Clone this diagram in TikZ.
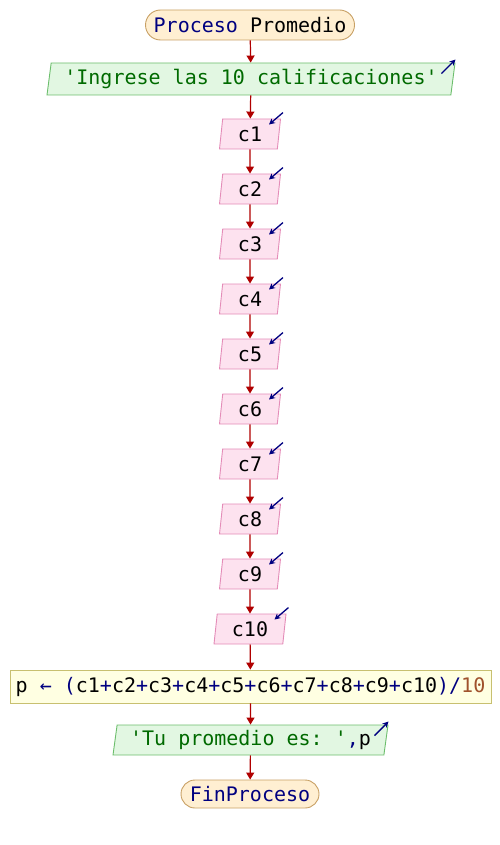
\documentclass[tikz,border=0pt]{standalone}
\usepackage{fontspec}
\setmonofont{DejaVu Sans Mono}
\usetikzlibrary{shapes.geometric,shapes.misc,arrows.meta}
\definecolor{kw}{HTML}{000080}
\definecolor{strc}{HTML}{006A00}
\definecolor{numc}{HTML}{A0522D}
\definecolor{arr}{HTML}{B00000}
\definecolor{termfill}{HTML}{FFEFD2}
\definecolor{termdraw}{HTML}{C8A064}
\definecolor{outfill}{HTML}{E2F7E2}
\definecolor{outdraw}{HTML}{6CBE6C}
\definecolor{infill}{HTML}{FDE2EF}
\definecolor{indraw}{HTML}{E48CB8}
\definecolor{asgfill}{HTML}{FFFFE2}
\definecolor{asgdraw}{HTML}{C8C070}
\tikzset{
  base/.style={font=\fontsize{20}{22}\selectfont\ttfamily, inner sep=0pt, line width=0.9pt},
  term/.style={base, rounded rectangle, draw=termdraw, fill=termfill, minimum height=30pt},
  para/.style={base, trapezium, trapezium left angle=78, trapezium right angle=102,
    trapezium stretches body},
  outbox/.style={para, draw=outdraw, fill=outfill, minimum height=32pt},
  inbox/.style={para, draw=indraw, fill=infill, minimum height=30pt},
  asgbox/.style={base, rectangle, draw=asgdraw, fill=asgfill, minimum height=33pt},
  flow/.style={draw=arr, line width=1.2pt, -{Triangle[length=7pt,width=8pt]}},
  io/.style={draw=kw, line width=1.3pt, -{Stealth[length=6pt,width=6pt]}}
}
\begin{document}
\begin{tikzpicture}[x=1pt,y=-1pt]
\useasboundingbox (0,0) rectangle (500,845);
\node[term, minimum width=209pt] (start) at (250,25) {\textcolor{kw}{Proceso} Promedio};
\node[outbox, minimum width=408pt] (out1) at (251,79) {\textcolor{strc}{'Ingrese las 10 calificaciones'}};
\foreach \i in {1,...,9}{
  \node[inbox, minimum width=61pt] (c\i) at (250,{134+55*(\i-1)}) {c\i};
}
\node[inbox, minimum width=72pt] (c10) at (250,629) {c10};
\node[asgbox, minimum width=481pt] (asg) at (250.5,686.5) {p \textcolor{kw}{←} \textcolor{kw}{(}c1\textcolor{kw}{+}c2\textcolor{kw}{+}c3\textcolor{kw}{+}c4\textcolor{kw}{+}c5\textcolor{kw}{+}c6\textcolor{kw}{+}c7\textcolor{kw}{+}c8\textcolor{kw}{+}c9\textcolor{kw}{+}c10\textcolor{kw}{)/}\textcolor{numc}{10}};
\node[outbox, minimum width=275pt, minimum height=30pt] (out2) at (250.5,740) {\textcolor{strc}{'Tu promedio es: '}\textcolor{kw}{,}p};
\node[term, minimum width=138pt, minimum height=28pt] (fin) at (250,794) {\textcolor{kw}{FinProceso}};

\draw[flow] (start) -- (out1);
\draw[flow] (out1) -- (c1);
\foreach \i [count=\j from 2] in {1,...,9}{
  \draw[flow] (c\i) -- (c\j);
}
\draw[flow] (c10) -- (asg);
\draw[flow] (asg) -- (out2);
\draw[flow] (out2) -- (fin);

\foreach \n in {c1,c2,c3,c4,c5,c6,c7,c8,c9,c10}{
  \coordinate (\n t) at ([shift={(2,-6)}]\n.top right corner);
  \coordinate (\n h) at ([shift={(-12,6)}]\n.top right corner);
  \draw[io] (\n t) -- (\n h);
}
\coordinate (o1t) at ([shift={(-14,11)}]out1.top right corner);
\coordinate (o1h) at ([shift={(0,-3)}]out1.top right corner);
\draw[io] (o1t) -- (o1h);
\coordinate (o2t) at ([shift={(-14,11)}]out2.top right corner);
\coordinate (o2h) at ([shift={(0,-3)}]out2.top right corner);
\draw[io] (o2t) -- (o2h);
\end{tikzpicture}
\end{document}
